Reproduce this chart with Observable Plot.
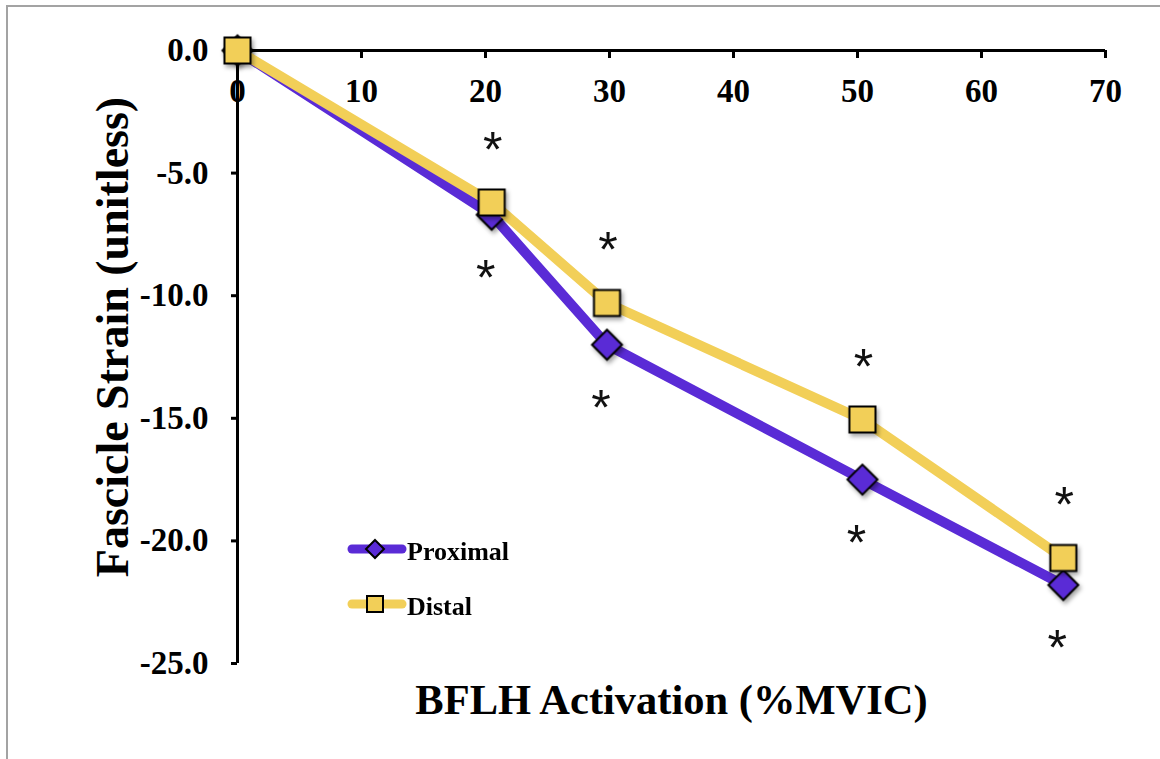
<!DOCTYPE html>
<html>
<head>
<meta charset="utf-8">
<script src="https://cdn.jsdelivr.net/npm/d3@7"></script>
<script src="https://cdn.jsdelivr.net/npm/@observablehq/plot@0.6"></script>
<style>
  html, body { margin: 0; padding: 0; background: #fff; overflow: hidden; }
  #wrap { position: relative; width: 1160px; height: 759px; }
  #border { position: absolute; left: 6px; top: 5px; width: 3000px; height: 3000px;
            border-left: 2px solid #a3a3a3; border-top: 2px solid #a3a3a3; }
  #chart, #legend { position: absolute; left: 0; top: 0; }
  #legend { pointer-events: none; }
</style>
</head>
<body>
<div id="wrap">
  <div id="border"></div>
  <div id="chart"></div>
  <svg id="legend" width="1160" height="759"></svg>
</div>
<script>
// BFLH activation (%MVIC) at each contraction level
const activation = [0, 20.5, 29.8, 50.4, 66.6];
// Fascicle strain per region
const proximalStrain = [0, -6.7, -12.0, -17.5, -21.8];
const distalStrain = [0, -6.2, -10.3, -15.05, -20.7];
// significant difference from rest (asterisks)
const proximalSig = [false, true, true, true, true];
const distalSig = [false, true, true, true, true];

const seriesNames = ["Proximal", "Distal"];
const xTicks = [0, 10, 20, 30, 40, 50, 60, 70];
const yTicks = [0, -5, -10, -15, -20, -25];

const purple = "#5a2bd6";
const yellow = "#f2cf58";
const serif = "'Liberation Serif', 'Times New Roman', Times, serif";
const sans = "'Liberation Sans', Arial, Helvetica, sans-serif";

const proximal = activation.map((x, i) => ({x, y: proximalStrain[i], sig: proximalSig[i]}));
const distal = activation.map((x, i) => ({x, y: distalStrain[i], sig: distalSig[i]}));

const chart = Plot.plot({
  width: 1160,
  height: 759,
  marginLeft: 237,
  marginRight: 55,
  marginTop: 50,
  marginBottom: 96,
  x: {domain: [0, 70]},
  y: {domain: [-25, 0]},
  style: {fontFamily: serif, fontWeight: "bold", color: "black", background: "transparent", overflow: "visible"},
  marks: [
    // x axis sits along the top (y = 0), ticks hang down, labels below
    Plot.axisX({anchor: "bottom", frameAnchor: "top", ticks: xTicks, tickSize: 8, tickPadding: 20,
                tickFormat: d => String(d), fontSize: 33, fontWeight: "bold", strokeWidth: 3, label: null}),
    Plot.axisY({anchor: "left", ticks: yTicks, tickSize: 6, tickPadding: 23,
                tickFormat: d => d.toFixed(1), fontSize: 33, fontWeight: "bold", strokeWidth: 3, label: null}),
    Plot.ruleY([0], {stroke: "black", strokeWidth: 3}),
    Plot.ruleX([0], {stroke: "black", strokeWidth: 3}),

    Plot.line(proximal, {x: "x", y: "y", stroke: purple, strokeWidth: 10, strokeLinejoin: "round"}),
    Plot.dot(proximal, {x: "x", y: "y", symbol: "diamond2", r: 13.5, fill: purple, stroke: "black", strokeWidth: 2}),
    Plot.line(distal, {x: "x", y: "y", stroke: yellow, strokeWidth: 10, strokeLinejoin: "round"}),
    Plot.dot(distal, {x: "x", y: "y", symbol: "square", r: 14.7, fill: yellow, stroke: "black", strokeWidth: 2}),

    // significance asterisks: distal above, proximal below
    Plot.text(distal.filter(d => d.sig), {x: "x", y: "y", text: () => "*", dy: -52, dx: 1,
      fontFamily: sans, fontWeight: "normal", fontSize: 50, fill: "#111"}),
    Plot.text(proximal.filter(d => d.sig), {x: "x", y: "y", text: () => "*", dy: 64, dx: -6,
      fontFamily: sans, fontWeight: "normal", fontSize: 50, fill: "#111"}),

    // axis titles
    Plot.text(["Fascicle Strain (unitless)"], {frameAnchor: "left", rotate: -90, lineAnchor: "bottom",
      textAnchor: "middle", dx: -110, dy: -20, fontSize: 46, fontWeight: "bold", fill: "black"}),
    Plot.text(["BFLH Activation (%MVIC)"], {frameAnchor: "bottom", lineAnchor: "bottom",
      textAnchor: "middle", dy: 50, fontSize: 42.5, fontWeight: "bold", fill: "black"})
  ]
});

d3.select(chart).selectAll('g[aria-label="dot"]')
  .style("filter", "drop-shadow(2px 3px 2px rgba(0,0,0,0.35))");
document.getElementById("chart").appendChild(chart);

// legend: line swatch with marker, then series name
const legend = d3.select("#legend");
const legendItems = [
  {name: seriesNames[0], color: purple, shape: "diamond"},
  {name: seriesNames[1], color: yellow, shape: "square"}
];
legendItems.forEach((item, i) => {
  const cy = 549 + i * 55;
  const g = legend.append("g");
  g.append("line").attr("x1", 352).attr("x2", 402).attr("y1", cy).attr("y2", cy)
    .attr("stroke", item.color).attr("stroke-width", 9).attr("stroke-linecap", "round");
  if (item.shape === "diamond") {
    g.append("path").attr("d", `M375,${cy - 9}L384,${cy}L375,${cy + 9}L366,${cy}Z`)
      .attr("fill", item.color).attr("stroke", "black").attr("stroke-width", 2);
  } else {
    g.append("rect").attr("x", 367).attr("y", cy - 8).attr("width", 16).attr("height", 16)
      .attr("fill", item.color).attr("stroke", "black").attr("stroke-width", 2);
  }
  g.append("text").attr("x", 407).attr("y", cy + 11)
    .attr("font-family", serif).attr("font-weight", "bold").attr("font-size", 26)
    .attr("fill", "black").text(item.name);
});
</script>
</body>
</html>
